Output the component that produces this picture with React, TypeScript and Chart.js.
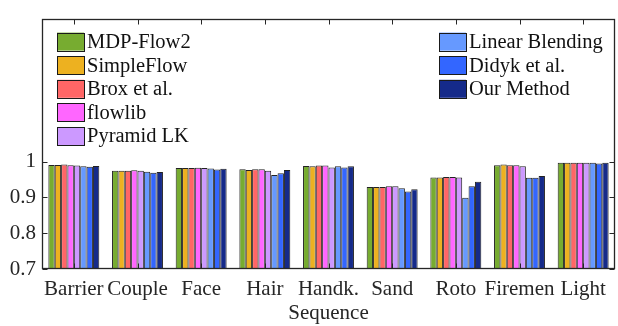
import React, { useEffect, useRef } from "react";
import { Chart, registerables } from "chart.js";

Chart.register(...registerables);

const categories = ["Barrier", "Couple", "Face", "Hair", "Handk.", "Sand", "Roto", "Firemen", "Light"];

const mdpFlow2 = [0.991, 0.975, 0.982, 0.979, 0.988, 0.929, 0.956, 0.990, 0.997];
const simpleFlow = [0.991, 0.975, 0.982, 0.977, 0.987, 0.929, 0.956, 0.992, 0.997];
const brox = [0.992, 0.975, 0.982, 0.979, 0.989, 0.929, 0.957, 0.990, 0.997];
const flowlib = [0.990, 0.976, 0.983, 0.979, 0.989, 0.931, 0.957, 0.990, 0.997];
const pyramidLK = [0.989, 0.975, 0.982, 0.975, 0.984, 0.931, 0.956, 0.987, 0.997];
const linearBlending = [0.987, 0.972, 0.981, 0.963, 0.987, 0.926, 0.899, 0.955, 0.997];
const didyk = [0.986, 0.969, 0.978, 0.968, 0.984, 0.917, 0.931, 0.955, 0.995];
const ourMethod = [0.988, 0.971, 0.980, 0.977, 0.987, 0.923, 0.944, 0.960, 0.997];

const seriesNames = ["MDP-Flow2", "SimpleFlow", "Brox et al.", "flowlib", "Pyramid LK", "Linear Blending", "Didyk et al.", "Our Method"];
const seriesValues = [mdpFlow2, simpleFlow, brox, flowlib, pyramidLK, linearBlending, didyk, ourMethod];
const seriesColors = ["#77AC30", "#EDB120", "#FF6666", "#FF66FF", "#CC99FF", "#6699FF", "#3366FF", "#152A8A"];

const yTicks = [0.7, 0.8, 0.9, 1.0];
const yTickLabels = ["0.7", "0.8", "0.9", "1"];
const xTitle = "Sequence";

const FONT = "'Liberation Serif', 'Times New Roman', serif";
const INK = "#262626";

const framePlugin = {
  id: "frame",
  afterDatasetsDraw(chart: any) {
    const { ctx, chartArea: a, scales } = chart;
    ctx.save();
    ctx.strokeStyle = INK;
    ctx.lineWidth = 1.3;
    const L = Math.round(a.left) + 0.5;
    const R = Math.round(a.right) - 0.5;
    const T = Math.round(a.top) + 0.5;
    const B = Math.round(a.bottom) - 0.5;
    ctx.strokeRect(L, T, R - L, B - T);
    ctx.lineWidth = 1;
    const tl = 5;
    const xs = scales.x;
    ctx.beginPath();
    for (let i = 0; i < categories.length; i++) {
      const px = Math.round(xs.getPixelForValue(i)) + 0.5;
      ctx.moveTo(px, B);
      ctx.lineTo(px, B - tl);
      ctx.moveTo(px, T);
      ctx.lineTo(px, T + tl);
    }
    const ys = scales.y;
    for (const v of yTicks) {
      const py = Math.round(ys.getPixelForValue(v)) + 0.5;
      ctx.moveTo(L, py);
      ctx.lineTo(L + tl, py);
      ctx.moveTo(R, py);
      ctx.lineTo(R - tl, py);
    }
    ctx.stroke();

    // legend, two columns inside the axes
    ctx.font = `20.5px ${FONT}`;
    ctx.textBaseline = "middle";
    ctx.textAlign = "left";
    const ds = chart.data.datasets;
    const rowH = 23.6;
    const boxW = 27;
    const boxH = 18;
    for (let i = 0; i < ds.length; i++) {
      const col = i < 5 ? 0 : 1;
      const row = col === 0 ? i : i - 5;
      const bx = col === 0 ? a.left + 15 : a.right - 176;
      const cy = a.top + 23 + row * rowH;
      ctx.fillStyle = ds[i].backgroundColor;
      ctx.fillRect(bx, cy - boxH / 2, boxW, boxH);
      ctx.strokeStyle = "#1a1a1a";
      ctx.lineWidth = 1;
      ctx.strokeRect(Math.round(bx) + 0.5, Math.round(cy - boxH / 2) + 0.5, boxW, boxH);
      ctx.fillStyle = "#111";
      ctx.fillText(ds[i].label, bx + boxW + 3, cy + 1);
    }
    ctx.restore();
  },
};

export default function App() {
  const ref = useRef<HTMLCanvasElement | null>(null);
  useEffect(() => {
    if (!ref.current) return;
    const chart = new Chart(ref.current, {
      type: "bar",
      data: {
        labels: categories,
        datasets: seriesValues.map((vals, i) => ({
          label: seriesNames[i],
          data: vals,
          backgroundColor: seriesColors[i],
          borderColor: "rgba(10,10,10,0.9)",
          borderWidth: 1,
          categoryPercentage: 0.8,
          barPercentage: 1.0,
        })),
      },
      options: {
        animation: false,
        responsive: false,
        maintainAspectRatio: false,
        layout: { padding: { top: 8, right: 3, left: 0, bottom: 0 } },
        plugins: {
          legend: { display: false },
          tooltip: { enabled: false },
        },
        scales: {
          x: {
            grid: { display: false, drawTicks: false },
            border: { display: false },
            ticks: {
              autoSkip: false,
              maxRotation: 0,
              minRotation: 0,
              padding: 8,
              color: INK,
              font: { family: FONT, size: 21 },
            },
            title: {
              display: true,
              text: xTitle,
              color: INK,
              font: { family: FONT, size: 21 },
              padding: { top: 0, bottom: 0 },
            },
            afterFit(scale: any) {
              scale.height = 57;
            },
          },
          y: {
            min: 0.7,
            max: 1.4,
            grid: { display: false, drawTicks: false },
            border: { display: false },
            afterBuildTicks(scale: any) {
              scale.ticks = yTicks.map((v) => ({ value: v }));
            },
            ticks: {
              padding: 6,
              color: INK,
              font: { family: FONT, size: 21 },
              callback: (v: any) => {
                const idx = yTicks.findIndex((t) => Math.abs(t - Number(v)) < 1e-6);
                return idx >= 0 ? yTickLabels[idx] : "";
              },
            },
            afterFit(scale: any) {
              scale.width = 42;
            },
          },
        },
      },
      plugins: [framePlugin],
    });
    return () => chart.destroy();
  }, []);
  return (
    <div style={{ position: "absolute", left: 0, top: 0, width: 618, height: 326, background: "#fff" }}>
      <canvas ref={ref} width={618} height={326} style={{ display: "block" }} />
    </div>
  );
}
